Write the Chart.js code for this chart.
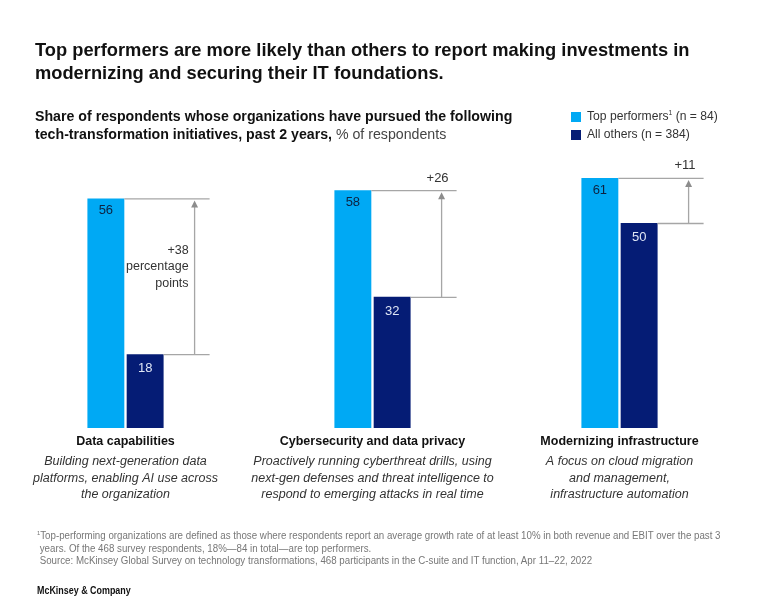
<!DOCTYPE html>
<html>
<head>
<meta charset="utf-8">
<script src="https://cdn.jsdelivr.net/npm/chart.js@4"></script>
<style>
  html,body{margin:0;padding:0;background:#fff;}
  #wrap{position:relative;width:768px;height:615px;overflow:hidden;font-family:"Liberation Sans",Arial,sans-serif;}
  canvas{position:absolute;left:0;top:0;}
  .t{position:absolute;white-space:nowrap;transform-origin:0 0;}
</style>
</head>
<body>
<div id="wrap">
  <canvas id="c" width="768" height="615"></canvas>
  <div class="t" style="left:35px;top:38px;font-size:19px;font-weight:bold;line-height:23px;color:#111;transform:scaleX(0.963)">Top performers are more likely than others to report making investments in<br>modernizing and securing their IT foundations.</div>
  <div class="t" style="left:35px;top:107px;font-size:15px;font-weight:bold;line-height:18px;color:#111;transform:scaleX(0.945)">Share of respondents whose organizations have pursued the following<br>tech-transformation initiatives, past 2 years, <span style="font-weight:normal;color:#444">% of respondents</span></div>
  <div id="legend"></div>
  <div class="t" style="left:37px;top:527px;font-size:10px;line-height:12.5px;color:#777;transform:scaleX(0.973)"><sup style="font-size:6px">1</sup>Top-performing organizations are defined as those where respondents report an average growth rate of at least 10% in both revenue and EBIT over the past 3<br>&nbsp;years. Of the 468 survey respondents, 18%—84 in total—are top performers.<br>&nbsp;Source: McKinsey Global Survey on technology transformations, 468 participants in the C-suite and IT function, Apr 11–22, 2022</div>
  <div class="t" style="left:37px;top:584px;font-size:10.5px;font-weight:bold;color:#111;transform:scaleX(0.85)">McKinsey &amp; Company</div>
</div>
<script>
// ---- data ----
const categories = ["Data capabilities", "Cybersecurity and data privacy", "Modernizing infrastructure"];
const descriptions = [
  ["Building next-generation data", "platforms, enabling AI use across", "the organization"],
  ["Proactively running cyberthreat drills, using", "next-gen defenses and threat intelligence to", "respond to emerging attacks in real time"],
  ["A focus on cloud migration", "and management,", "infrastructure automation"]
];
const seriesNames = ["Top performers¹ (n = 84)", "All others (n = 384)"];
const topPerformers = [56, 58, 61];
const allOthers = [18, 32, 50];
const gapLabels = [["+38", "percentage", "points"], ["+26"], ["+11"]];

const colors = ["#00A9F4", "#051C75"];

// legend (HTML)
const lg = document.getElementById('legend');
seriesNames.forEach((n, i) => {
  const sq = document.createElement('div');
  sq.style.cssText = `position:absolute;left:571px;top:${112 + i*17.5}px;width:10px;height:10px;background:${colors[i]}`;
  lg.appendChild(sq);
  const tx = document.createElement('div');
  tx.className = 't';
  tx.style.cssText = `left:587px;top:${109 + i*17.5}px;font-size:12.5px;color:#333;transform:scaleX(0.97)`;
  tx.innerHTML = n.replace('¹', '<sup style="font-size:7px">1</sup>');
  lg.appendChild(tx);
});

const annot = {
  id: 'annot',
  afterDatasetsDraw(chart) {
    const ctx = chart.ctx;
    const m0 = chart.getDatasetMeta(0), m1 = chart.getDatasetMeta(1);
    ctx.save();
    categories.forEach((cat, i) => {
      const b0 = m0.data[i], b1 = m1.data[i];
      const w0 = b0.width, w1 = b1.width;
      const r0 = b0.x + w0/2, r1 = b1.x + w1/2;
      const lineEnd = r1 + 46, arrowX = r1 + 31;
      const yT = b0.y, yB = b1.y;
      // value labels
      ctx.font = '13px "Liberation Sans", Arial, sans-serif';
      ctx.textAlign = 'center'; ctx.textBaseline = 'middle';
      ctx.fillStyle = '#0d2240';
      ctx.fillText(String(topPerformers[i]), b0.x, yT + 12.5);
      ctx.fillStyle = '#dfe6f5';
      ctx.fillText(String(allOthers[i]), b1.x, yB + 14.5);
      // bracket lines
      ctx.strokeStyle = '#a6a6a6'; ctx.lineWidth = 1.3;
      ctx.beginPath();
      ctx.moveTo(r0, yT + 0.5); ctx.lineTo(lineEnd, yT + 0.5);
      ctx.moveTo(r1, yB + 0.5); ctx.lineTo(lineEnd, yB + 0.5);
      ctx.moveTo(arrowX, yB); ctx.lineTo(arrowX, yT + 6);
      ctx.stroke();
      ctx.fillStyle = '#8c8c8c';
      ctx.beginPath();
      ctx.moveTo(arrowX, yT + 2); ctx.lineTo(arrowX - 3.5, yT + 9); ctx.lineTo(arrowX + 3.5, yT + 9);
      ctx.closePath(); ctx.fill();
      // gap labels
      ctx.fillStyle = '#333';
      ctx.textAlign = 'right';
      const g = gapLabels[i];
      if (g.length > 1) {
        ctx.font = '12.5px "Liberation Sans", Arial, sans-serif';
        g.forEach((s, k) => ctx.fillText(s, arrowX - 6, yT + 52 + k*16.5));
      } else {
        ctx.font = '13px "Liberation Sans", Arial, sans-serif';
        ctx.fillText(g[0], lineEnd - 8, yT - 12);
      }
      // category labels
      const cx = (b0.x + b1.x) / 2;
      ctx.textAlign = 'center';
      ctx.fillStyle = '#111';
      ctx.font = 'bold 12.5px "Liberation Sans", Arial, sans-serif';
      ctx.fillText(cat, cx, 442);
      ctx.fillStyle = '#333';
      ctx.font = 'italic 12.5px "Liberation Sans", Arial, sans-serif';
      descriptions[i].forEach((s, k) => ctx.fillText(s, cx, 462 + k*16.3));
    });
    ctx.restore();
  }
};

new Chart(document.getElementById('c'), {
  type: 'bar',
  data: {
    labels: categories,
    datasets: [
      { label: seriesNames[0], data: topPerformers, backgroundColor: colors[0], barPercentage: 0.94, categoryPercentage: 0.318 },
      { label: seriesNames[1], data: allOthers, backgroundColor: colors[1], barPercentage: 0.94, categoryPercentage: 0.318 }
    ]
  },
  options: {
    responsive: false,
    animation: false,
    layout: { padding: { left: 2, right: 25, top: 141, bottom: 187 } },
    plugins: { legend: { display: false }, tooltip: { enabled: false } },
    scales: {
      x: { display: false },
      y: { display: false, min: 0, max: 70 }
    }
  },
  plugins: [annot]
});
</script>
</body>
</html>
